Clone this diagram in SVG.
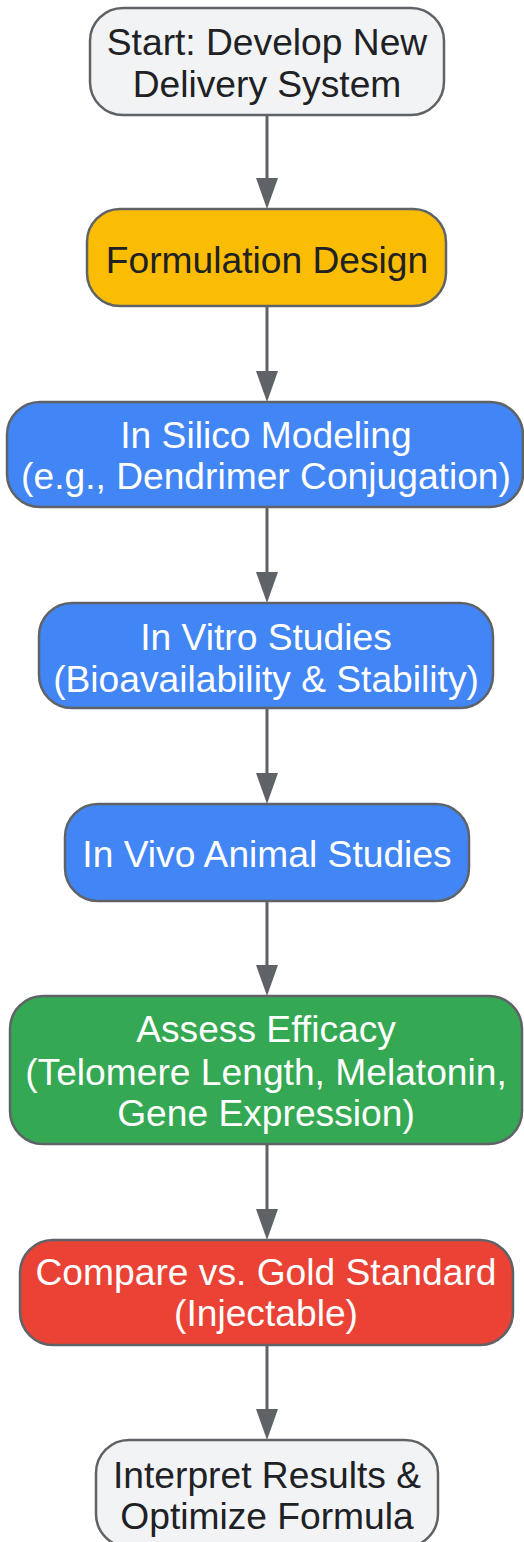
<svg xmlns="http://www.w3.org/2000/svg" width="524" height="1542" viewBox="0 0 524 1542">
<defs>
<style>
.node rect{stroke:#5f6368;stroke-width:2.5}
.node text{font-family:"Liberation Sans",Arial,sans-serif;font-size:37.2px;text-anchor:middle}
.dark{fill:#202124}
.light{fill:#ffffff}
.edge{stroke:#5f6368;stroke-width:3;fill:none;marker-end:url(#arr)}
</style>
<marker id="arr" markerWidth="31" markerHeight="22" refX="1" refY="11" orient="auto" markerUnits="userSpaceOnUse" viewBox="0 0 31 22">
<path d="M0,0 L31,11 L0,22 Z" fill="#5f6368"/>
</marker>
</defs>
<rect width="524" height="1542" fill="#ffffff"/>
<g id="connectors">
<line class="edge" x1="267" y1="115" x2="267" y2="179"/>
<line class="edge" x1="267" y1="306" x2="267" y2="372"/>
<line class="edge" x1="267" y1="507" x2="267" y2="573"/>
<line class="edge" x1="267" y1="708" x2="267" y2="774"/>
<line class="edge" x1="267" y1="901" x2="267" y2="966"/>
<line class="edge" x1="267" y1="1144" x2="267" y2="1210"/>
<line class="edge" x1="267" y1="1345" x2="267" y2="1410"/>
</g>
<g id="n1" class="node">
<rect x="90" y="8" width="354" height="107" rx="33" fill="#f1f3f4"/>
<text class="dark" x="267" y="55">Start: Develop New</text>
<text class="dark" x="267" y="97">Delivery System</text>
</g>
<g id="n2" class="node">
<rect x="87" y="209" width="359" height="97" rx="33" fill="#fbbc04"/>
<text class="dark" x="267" y="273">Formulation Design</text>
</g>
<g id="n3" class="node">
<rect x="7" y="402" width="516" height="105" rx="33" fill="#4285f4"/>
<text class="light" x="266" y="448">In Silico Modeling</text>
<text class="light" x="266" y="489">(e.g., Dendrimer Conjugation)</text>
</g>
<g id="n4" class="node">
<rect x="39" y="603" width="454" height="105" rx="33" fill="#4285f4"/>
<text class="light" x="266" y="650">In Vitro Studies</text>
<text class="light" x="266" y="692">(Bioavailability &amp; Stability)</text>
</g>
<g id="n5" class="node">
<rect x="65" y="804" width="404" height="97" rx="33" fill="#4285f4"/>
<text class="light" x="267" y="867">In Vivo Animal Studies</text>
</g>
<g id="n6" class="node">
<rect x="10" y="996" width="512" height="148" rx="33" fill="#34a853"/>
<text class="light" x="266" y="1042">Assess Efficacy</text>
<text class="light" x="266" y="1085">(Telomere Length, Melatonin,</text>
<text class="light" x="266" y="1126">Gene Expression)</text>
</g>
<g id="n7" class="node">
<rect x="20" y="1240" width="493" height="105" rx="33" fill="#ea4335"/>
<text class="light" x="266" y="1285">Compare vs. Gold Standard</text>
<text class="light" x="266" y="1326">(Injectable)</text>
</g>
<g id="n8" class="node">
<rect x="96" y="1440" width="342" height="107" rx="33" fill="#f1f3f4"/>
<text class="dark" x="267" y="1488">Interpret Results &amp;</text>
<text class="dark" x="267" y="1529">Optimize Formula</text>
</g>
</svg>
